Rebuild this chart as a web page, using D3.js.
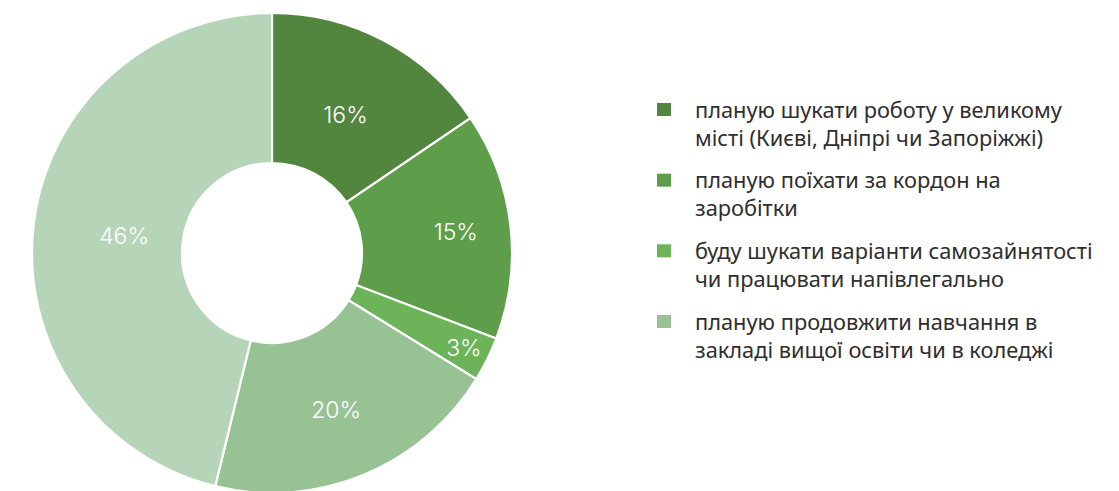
<!DOCTYPE html>
<html><head><meta charset="utf-8">
<script src="https://cdn.jsdelivr.net/npm/d3@7"></script>
<style>
html,body{margin:0;padding:0;background:#fff;}
svg{display:block;}
</style></head>
<body>
<svg id="chart" width="1119" height="491"></svg>
<script>
// ---- data ----
const categories = [
  "планую шукати роботу у великому місті (Києві, Дніпрі чи Запоріжжі)",
  "планую поїхати за кордон на заробітки",
  "буду шукати варіанти самозайнятості чи працювати напівлегально",
  "планую продовжити навчання в закладі вищої освіти чи в коледжі",
  "інше"
];
const values = [15.5, 15.3, 3.0, 20.0, 46.2];
const legendLines = [
  ["планую шукати роботу у великому", "місті (Києві, Дніпрі чи Запоріжжі)"],
  ["планую поїхати за кордон на", "заробітки"],
  ["буду шукати варіанти самозайнятості", "чи працювати напівлегально"],
  ["планую продовжити навчання в", "закладі вищої освіти чи в коледжі"]
];
const colors = ["#52863f", "#5e9e4b", "#6db35a", "#97c394", "#b6d4b8"];

// ---- layout ----
const svg = d3.select("#chart");
const cx = 272, cy = 253, outerR = 240, innerR = 90;
const labelR = [157, 185, 214, 169, 149];

const color = d3.scaleOrdinal().domain(d3.range(values.length)).range(colors);
const pie = d3.pie().sort(null).value(d => d)(values);
const arc = d3.arc().innerRadius(innerR).outerRadius(outerR);

const g = svg.append("g").attr("transform", `translate(${cx},${cy})`);
g.selectAll("path.slice").data(pie).join("path")
  .attr("class", "slice")
  .attr("d", arc)
  .attr("fill", (d, i) => color(i))
  .attr("stroke", "#fff")
  .attr("stroke-width", 2.2)
  .attr("stroke-linejoin", "miter");

g.selectAll("text.lbl").data(pie).join("text")
  .attr("class", "lbl")
  .attr("transform", (d, i) => {
    const c = d3.arc().innerRadius(labelR[i]).outerRadius(labelR[i]).centroid(d);
    return `translate(${c[0]},${c[1]})`;
  })
  .attr("text-anchor", "middle")
  .attr("dy", "0.36em")
  .attr("fill", "#fff")
  .attr("font-family", "Inter, 'Noto Sans', sans-serif")
  .attr("font-weight", 300)
  .attr("font-size", 23)
  .text(d => Math.round(d.data) + "%");

// ---- legend ----
const legend = svg.append("g").attr("transform", "translate(657,0)");
const itemY = d3.scaleLinear().domain([0, 3]).range([110, 322]);
const items = legend.selectAll("g.item").data(legendLines).join("g")
  .attr("class", "item")
  .attr("transform", (d, i) => `translate(0,${itemY(i)})`);
items.append("rect")
  .attr("x", 0).attr("y", -7).attr("width", 14).attr("height", 13)
  .attr("fill", (d, i) => color(i));
items.append("text")
  .attr("x", 38)
  .attr("fill", "#2e2e2e")
  .attr("font-family", "'Noto Sans', sans-serif")
  .attr("font-size", 21.8)
  .selectAll("tspan").data(d => d).join("tspan")
  .attr("x", 38)
  .attr("y", (d, j) => j * 28 + 7.5)
  .text(d => d);
</script>
</body></html>
